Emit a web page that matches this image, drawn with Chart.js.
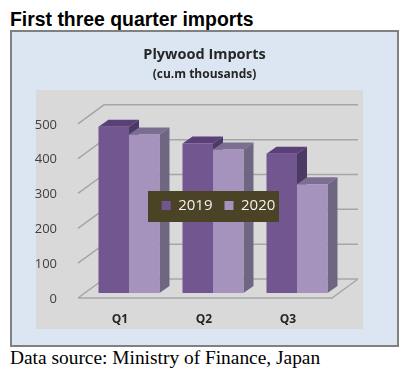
<!DOCTYPE html>
<html>
<head>
<meta charset="utf-8">
<script src="https://cdn.jsdelivr.net/npm/chart.js@4"></script>
<style>
  body { margin: 0; background: #fff; width: 415px; height: 379px; overflow: hidden; position: relative; }
  #heading { position: absolute; left: 10px; top: 8px; font: bold 19.4px "Liberation Sans", Arial, sans-serif; color: #000; white-space: nowrap; }
  #box { position: absolute; left: 10px; top: 30px; width: 385px; height: 313px; border: 2px solid #808080; background: #dce6f2; }
  #source { position: absolute; left: 10px; top: 347px; font: 19.4px "Liberation Serif", "Times New Roman", serif; color: #000; white-space: nowrap; }
  canvas { display: block; }
</style>
</head>
<body>
<div id="heading">First three quarter imports</div>
<div id="box"><canvas id="myChart" width="385" height="313"></canvas></div>
<div id="source">Data source: Ministry of Finance, Japan</div>

<script>
const categories = ['Q1', 'Q2', 'Q3'];
const imports2019 = [477, 429, 400];
const imports2020 = [455, 412, 312];
const yearLabels = ['2019', '2020'];
const yTicks = [0, 100, 200, 300, 400, 500];

// colours of each year: front, top and side of the block
const faceColors = ['#725690', '#a593be'];
const topColors = ['#5a3f78', '#7b6e92'];
const sideColors = ['#4c3a66', '#6f6682'];

// grey panel, 3D floor and block depth
const panel = { left: 24, top: 58, right: 351, bottom: 297 };
const floor = { frontLeft: 66, frontRight: 320, backLeft: 92, backRight: 346, frontDrop: 5, backRise: 14 };
const depth = { x: 10, y: 7 };

function drawLine(ctx, points) {
    ctx.beginPath();
    points.forEach(function (p, i) {
        if (i == 0) ctx.moveTo(p[0], p[1]);
        else ctx.lineTo(p[0], p[1]);
    });
    ctx.stroke();
}

function drawShape(ctx, points, color) {
    ctx.fillStyle = color;
    ctx.beginPath();
    points.forEach(function (p, i) {
        if (i == 0) ctx.moveTo(p[0], p[1]);
        else ctx.lineTo(p[0], p[1]);
    });
    ctx.closePath();
    ctx.fill();
}

const fake3d = {
    id: 'fake3d',
    beforeUpdate(chart) {
        // smaller reserved height, the legend is moved over the bars later
        chart.legend.afterFit = function () { this.height = 31; };
        // legend has to be painted above the bars, with its dark box
        chart.legend._layers = function () {
            return [{
                z: 5,
                draw() {
                    const ctx = chart.ctx;
                    ctx.fillStyle = '#4b4326';
                    ctx.fillRect(136, 159, 131, 31);
                    chart.legend.draw();
                }
            }];
        };
    },
    afterLayout(chart) {
        const legend = chart.legend;
        legend.left = 111;
        legend.right = 302;
        legend.top = 154;
        legend.bottom = 190;
        // tick labels are clipped to the scale box, so open it to the left
        chart.scales.y.left = 0;
    },
    beforeDraw(chart) {
        const ctx = chart.ctx;
        ctx.fillStyle = '#d9d9d9';
        ctx.fillRect(panel.left, panel.top, panel.right - panel.left, panel.bottom - panel.top);
    },
    beforeDatasetsDraw(chart) {
        const ctx = chart.ctx;
        const y = chart.scales.y;

        // grid lines: front edge, up the side wall, along the back wall
        ctx.strokeStyle = '#a6a6a6';
        ctx.lineWidth = 1.5;
        yTicks.forEach(function (tick) {
            const py = y.getPixelForValue(tick);
            drawLine(ctx, [
                [floor.frontLeft, py + floor.frontDrop],
                [floor.backLeft, py - floor.backRise],
                [floor.backRight, py - floor.backRise]
            ]);
        });

        // floor
        const py0 = y.getPixelForValue(0);
        drawLine(ctx, [
            [floor.frontLeft, py0 + floor.frontDrop],
            [floor.frontRight, py0 + floor.frontDrop],
            [floor.backRight, py0 - floor.backRise]
        ]);

        // top and side of every block, the fronts are the chart's own bars
        chart.data.datasets.forEach(function (ds, d) {
            chart.getDatasetMeta(d).data.forEach(function (bar) {
                const l = bar.x - bar.width / 2;
                const r = bar.x + bar.width / 2;
                drawShape(ctx, [[l, bar.y], [r, bar.y], [r + depth.x, bar.y - depth.y], [l + depth.x, bar.y - depth.y]], topColors[d]);
                drawShape(ctx, [[r, bar.y], [r + depth.x, bar.y - depth.y], [r + depth.x, bar.base - depth.y], [r, bar.base]], sideColors[d]);
            });
        });
    }
};

const ctx = document.getElementById('myChart');

new Chart(ctx, {
    type: 'bar',
    data: {
        labels: categories,
        datasets: [{
            label: yearLabels[0],
            data: imports2019,
            backgroundColor: faceColors[0],
            borderWidth: 0
        }, {
            label: yearLabels[1],
            data: imports2020,
            backgroundColor: faceColors[1],
            borderWidth: 0
        }]
    },
    plugins: [fake3d],
    options: {
        responsive: false,
        animation: false,
        devicePixelRatio: 1,
        layout: {
            padding: { left: 58, right: 58, top: 0, bottom: 12 }
        },
        datasets: {
            bar: { barPercentage: 1, categoryPercentage: 0.726 }
        },
        plugins: {
            title: {
                display: true,
                text: 'Plywood Imports',
                color: '#262626',
                font: { family: 'Open Sans', size: 14.5, weight: 'bold' },
                padding: { top: 14, bottom: 2 }
            },
            subtitle: {
                display: true,
                text: '(cu.m thousands)',
                color: '#262626',
                font: { family: 'Open Sans', size: 12, weight: 'bold' },
                padding: { top: 2, bottom: 0 }
            },
            legend: {
                display: true,
                position: 'top',
                labels: {
                    boxWidth: 9,
                    boxHeight: 9,
                    padding: 12,
                    color: '#f2f2f2',
                    font: { family: 'Open Sans', size: 15 }
                }
            },
            tooltip: { enabled: false }
        },
        scales: {
            y: {
                min: 0,
                max: 500,
                afterFit(scale) { scale.width = 17; },
                afterBuildTicks(scale) {
                    scale.ticks = yTicks.map(function (v) { return { value: v }; });
                },
                grid: { display: false },
                border: { display: false },
                ticks: {
                    color: '#404040',
                    padding: 22,
                    labelOffset: 6,
                    font: { family: 'Open Sans', size: 13 }
                }
            },
            x: {
                afterFit(scale) { scale.height = 40; },
                grid: { display: false },
                border: { display: false },
                ticks: {
                    color: '#262626',
                    padding: 11,
                    labelOffset: -9,
                    font: { family: 'Open Sans', size: 12, weight: 'bold' }
                }
            }
        }
    }
});
</script>
</body>
</html>
